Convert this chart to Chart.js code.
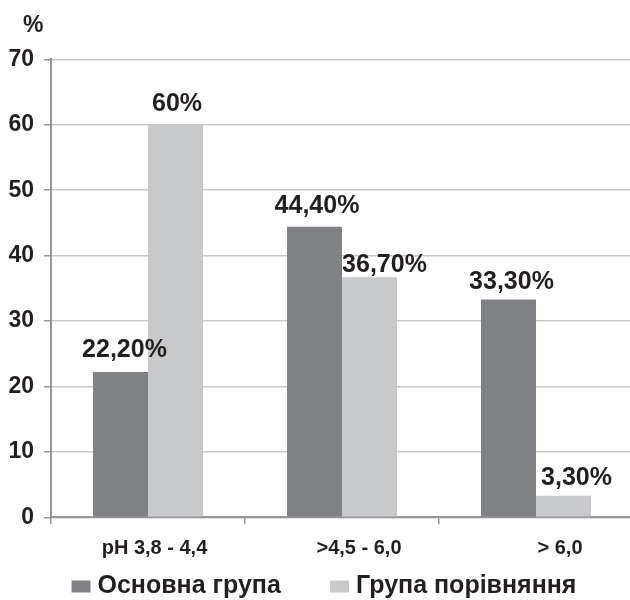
<!DOCTYPE html>
<html>
<head>
<meta charset="utf-8">
<script src="https://cdn.jsdelivr.net/npm/chart.js@4.4.1/dist/chart.umd.min.js"></script>
<style>
  html, body { margin: 0; padding: 0; background: #fff; overflow: hidden; }
  #wrap { position: relative; width: 640px; height: 600px; }
</style>
</head>
<body>
<div id="wrap"><canvas id="chart"></canvas></div>
<script>
// pH ranges and share of patients (%) in each group
const categories = ['pH 3,8 - 4,4', '>4,5 - 6,0', '> 6,0'];
const seriesNames = ['Основна група', 'Група порівняння'];
const mainGroup = [22.2, 44.4, 33.3];
const compareGroup = [60, 36.7, 3.3];
const yTicks = [0, 10, 20, 30, 40, 50, 60, 70];
const yUnit = '%';

const FONT = '"Liberation Sans", Arial, Helvetica, sans-serif';
const INK = '#231f20';
const AXIS = '#939598';
const DARK = '#808184';
const LIGHT = '#c8c9cb';

function fmt(v) {
  return Number.isInteger(v) ? v + '%' : v.toFixed(2).replace('.', ',') + '%';
}

// value labels above each bar; per-bar nudges in px: [dx, gap above bar top]
const valueLabels = {
  id: 'valueLabels',
  afterDatasetsDraw(chart, args, opts) {
    const ctx = chart.ctx;
    ctx.save();
    ctx.font = 'bold 25px ' + FONT;
    ctx.fillStyle = INK;
    ctx.textAlign = 'center';
    ctx.textBaseline = 'alphabetic';
    chart.data.datasets.forEach((ds, di) => {
      const meta = chart.getDatasetMeta(di);
      meta.data.forEach((bar, i) => {
        const [dx, gap] = opts.nudge[di][i];
        ctx.fillText(fmt(ds.data[i]), bar.x + dx, bar.y - gap);
      });
    });
    ctx.restore();
  }
};

// category names under the x axis, unit label, and the legend row
const extras = {
  id: 'extras',
  afterDraw(chart, args, opts) {
    const ctx = chart.ctx;
    const xs = chart.scales.x;
    ctx.save();
    ctx.fillStyle = INK;
    ctx.textBaseline = 'alphabetic';

    ctx.font = 'bold 20px ' + FONT;
    ctx.textAlign = 'center';
    chart.data.labels.forEach((lab, i) => {
      ctx.fillText(lab, xs.getPixelForValue(i) + opts.catShift[i], 553.5);
    });

    ctx.font = 'bold 23px ' + FONT;
    ctx.textAlign = 'left';
    ctx.fillText(yUnit, 23, 31.5);

    ctx.font = 'bold 25px ' + FONT;
    chart.data.datasets.forEach((ds, di) => {
      const x0 = opts.legendX[di];
      ctx.fillStyle = ds.backgroundColor;
      ctx.fillRect(x0, 580.5, 19, 12);
      ctx.fillStyle = INK;
      ctx.fillText(ds.label, x0 + 26, 592.7);
    });
    ctx.restore();
  }
};

new Chart(document.getElementById('chart'), {
  type: 'bar',
  data: {
    labels: categories,
    datasets: [
      { label: seriesNames[0], data: mainGroup, backgroundColor: DARK },
      { label: seriesNames[1], data: compareGroup, backgroundColor: LIGHT }
    ]
  },
  options: {
    responsive: true,
    maintainAspectRatio: false,
    animation: false,
    devicePixelRatio: 1,
    layout: { padding: { top: 59.3, right: 7, left: 0, bottom: 0 } },
    datasets: { bar: { categoryPercentage: 0.567, barPercentage: 1.0, borderWidth: 0 } },
    plugins: {
      legend: { display: false },
      tooltip: { enabled: false },
      valueLabels: {
        nudge: [
          [[4, 14.7], [2.5, 14], [3, 10]],
          [[1.5, 14], [15, 5.5], [13, 10.7]]
        ]
      },
      extras: {
        catShift: [6.5, 17, 24],
        legendX: [71.5, 330]
      }
    },
    scales: {
      x: {
        offset: true,
        ticks: { display: false },
        grid: {
          offset: true,
          drawOnChartArea: false,
          drawTicks: true,
          tickLength: 7,
          color: AXIS,
          lineWidth: 1.5
        },
        border: { display: true, color: AXIS, width: 2 },
        afterFit(scale) { scale.height = 600 - 517.3; }
      },
      y: {
        min: yTicks[0],
        max: yTicks[yTicks.length - 1],
        afterBuildTicks(scale) { scale.ticks = yTicks.map(v => ({ value: v })); },
        ticks: {
          color: INK,
          padding: 10,
          font: { family: FONT, size: 23, weight: 'bold' }
        },
        grid: {
          color: '#c8c8c8',
          lineWidth: 1.5,
          tickColor: AXIS,
          tickLength: 7
        },
        border: { display: true, color: AXIS, width: 2 },
        afterFit(scale) { scale.width = 51; }
      }
    }
  },
  plugins: [valueLabels, extras]
});
</script>
</body>
</html>
